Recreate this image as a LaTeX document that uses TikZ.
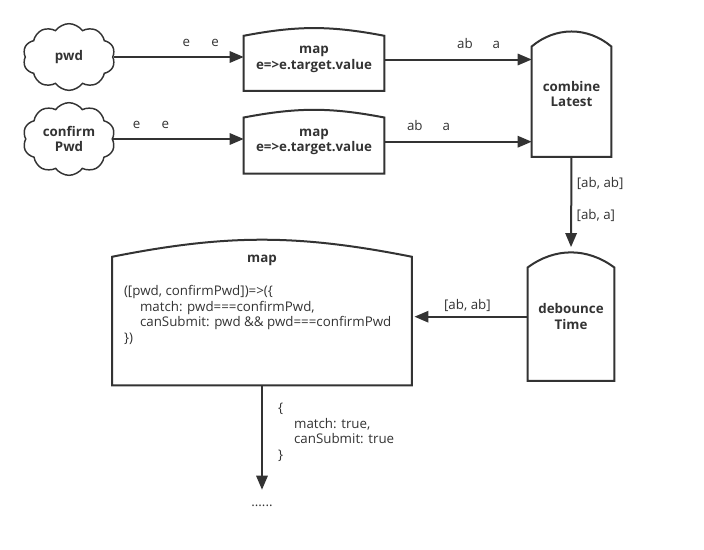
\documentclass[tikz,border=0pt]{standalone}
\usepackage{fontspec}
\setmainfont{Open Sans}
\usetikzlibrary{shapes.symbols,arrows.meta,positioning}
\definecolor{ink}{HTML}{333333}

\begin{document}
\begin{tikzpicture}[
    x=0.75pt, y=-0.75pt,
    every node/.style={text=ink, font=\fontsize{10}{11.6}\selectfont},
    src/.style={cloud, cloud puffs=10, cloud puff arc=110, aspect=1.4, draw=ink, line width=1.1pt, minimum width=69pt, minimum height=50pt, align=center, font=\fontsize{10}{11.6}\selectfont\bfseries},
    archbox/.style={inner sep=0pt, align=center, font=\fontsize{10}{11.6}\selectfont\bfseries},
    outline/.style={draw=ink, line width=1.5pt},
    lbl/.style={font=\fontsize{10}{11.6}\selectfont},
    arrow/.style={draw=ink, line width=1.5pt, -{Triangle[length=10.5pt, width=8.5pt]}}
]
    \useasboundingbox (0,0) rectangle (704,550);

    % sources
    \node[src] (pwd) at (69,57) {pwd};
    \node[src] (cpwd) at (69,139) {confirm\\Pwd};

    % operators
    \node[archbox, minimum width=105pt, minimum height=46.8pt] (map1) at (314,59.5) {map\\e=>e.target.value};
    \node[archbox, minimum width=105pt, minimum height=47.5pt] (map2) at (314,141.7) {map\\e=>e.target.value};
    \node[archbox, minimum width=59.25pt, minimum height=93.75pt] (comb) at (571.5,94.2) {combine\\Latest};
    \node[archbox, minimum width=64.5pt, minimum height=96pt] (deb) at (571,316.7) {debounce\\Time};
    \node[archbox, minimum width=224.25pt, minimum height=108.75pt] (bigmap) at (262,312.5) {};
    \node[archbox] (maptitle) at ([yshift=-15.75pt]bigmap.north) {map};
    \node[lbl, anchor=west, align=left] (mapcode) at ([xshift=5.3pt, yshift=-1.9pt]bigmap.west)
        {([pwd, confirmPwd])=>(\{\\\hspace*{12pt}match: pwd===confirmPwd,\\\hspace*{12pt}canSubmit: pwd \&\& pwd===confirmPwd\\\})};
    \node[lbl, minimum height=24pt] (dots) at (262,506) {......};

    % arched outlines
    \foreach \n/\d/\b in {map1/5.8pt/10.8, map2/5.8pt/10.8, comb/11.25pt/40, deb/11.25pt/36.5, bigmap/12.75pt/11.2}
        \draw[outline] (\n.south west) -- ([yshift=-\d]\n.north west) to[bend left=\b] ([yshift=-\d]\n.north east) -- (\n.south east) -- cycle;

    % streams
    \draw[arrow] (pwd.east) -- node[lbl, above=4pt, pos=0.67] {e\hspace{1.6em}e} (pwd.east -| map1.west);
    \draw[arrow] (cpwd.east) -- node[lbl, above=4pt, pos=0.29] {e\hspace{1.6em}e} (cpwd.east -| map2.west);
    \draw[arrow] (map1.east) -- node[lbl, above=4pt, pos=0.64] {ab\hspace{1.5em}a} (map1.east -| comb.west);
    \draw[arrow] (map2.east) -- node[lbl, above=4pt, pos=0.30] {ab\hspace{1.5em}a} (map2.east -| comb.west);
    \draw[arrow, shorten >=4pt] (comb.south) -- node[lbl, right, pos=0.28] {[ab, ab]} node[lbl, right, pos=0.61] {[ab, a]} (deb.north);
    \draw[arrow, shorten >=2pt] (deb.west) -- node[lbl, above, pos=0.52] {[ab, ab]} (deb.west -| bigmap.east);
    \draw[arrow] (bigmap.south) -- node[lbl, right=8pt, pos=0.45, align=left]
        {\{\\\hspace*{12pt}match: true,\\\hspace*{12pt}canSubmit: true\\\}} (dots.north);
\end{tikzpicture}
\end{document}
